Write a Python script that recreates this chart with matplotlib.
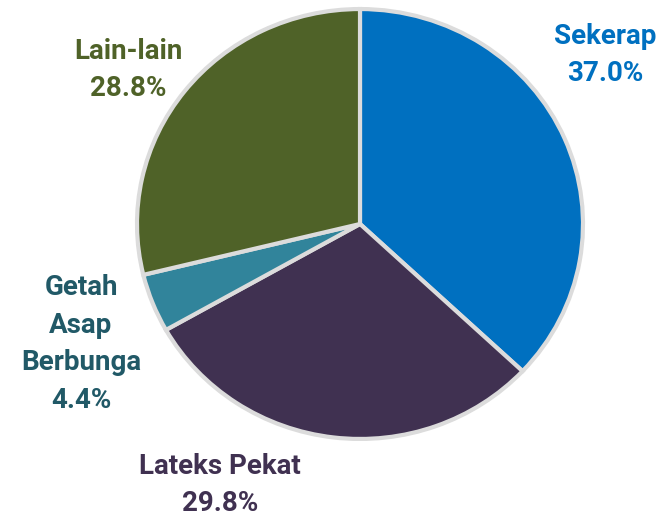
import matplotlib.pyplot as plt

# Data
labels = ['Sekerap', 'Lateks Pekat', 'Getah\nAsap\nBerbunga', 'Lain-lain']
shares = [37.0, 29.8, 4.4, 28.8]
slice_colors = ['#0070C0', '#403151', '#31849B', '#4F6228']
text_colors = ['#0070C0', '#403151', '#215967', '#4F6228']

plt.rcParams['font.family'] = ['Roboto', 'DejaVu Sans']

fig = plt.figure(figsize=(6.64, 5.16), dpi=100)
ax = fig.add_axes([0, 0, 1, 1])

# work in pixel-like units; slight vertical squash as in the original
sy = 222 / 214
cx, cy = 360, (516 - 224) * sy
wedges, _ = ax.pie(shares, colors=slice_colors, startangle=90, counterclock=False,
                   center=(cx, cy), radius=223, frame=True,
                   wedgeprops=dict(edgecolor='#dcdcdc', linewidth=3))
ax.set_aspect('auto')
ax.set_xlim(0, 664)
ax.set_ylim(0, 516 * sy)
ax.axis('off')

# label positions in pixels (from top-left)
label_pos = [(605, 55), (220, 485), (81, 344), (128, 70)]
for lab, val, col, (px, py) in zip(labels, shares, text_colors, label_pos):
    ax.text(px, (516 - py) * sy, f'{lab}\n{val:.1f}%', color=col, fontsize=20,
            fontweight='bold', ha='center', va='center', linespacing=1.5)

fig.savefig('out.png', dpi=100)
